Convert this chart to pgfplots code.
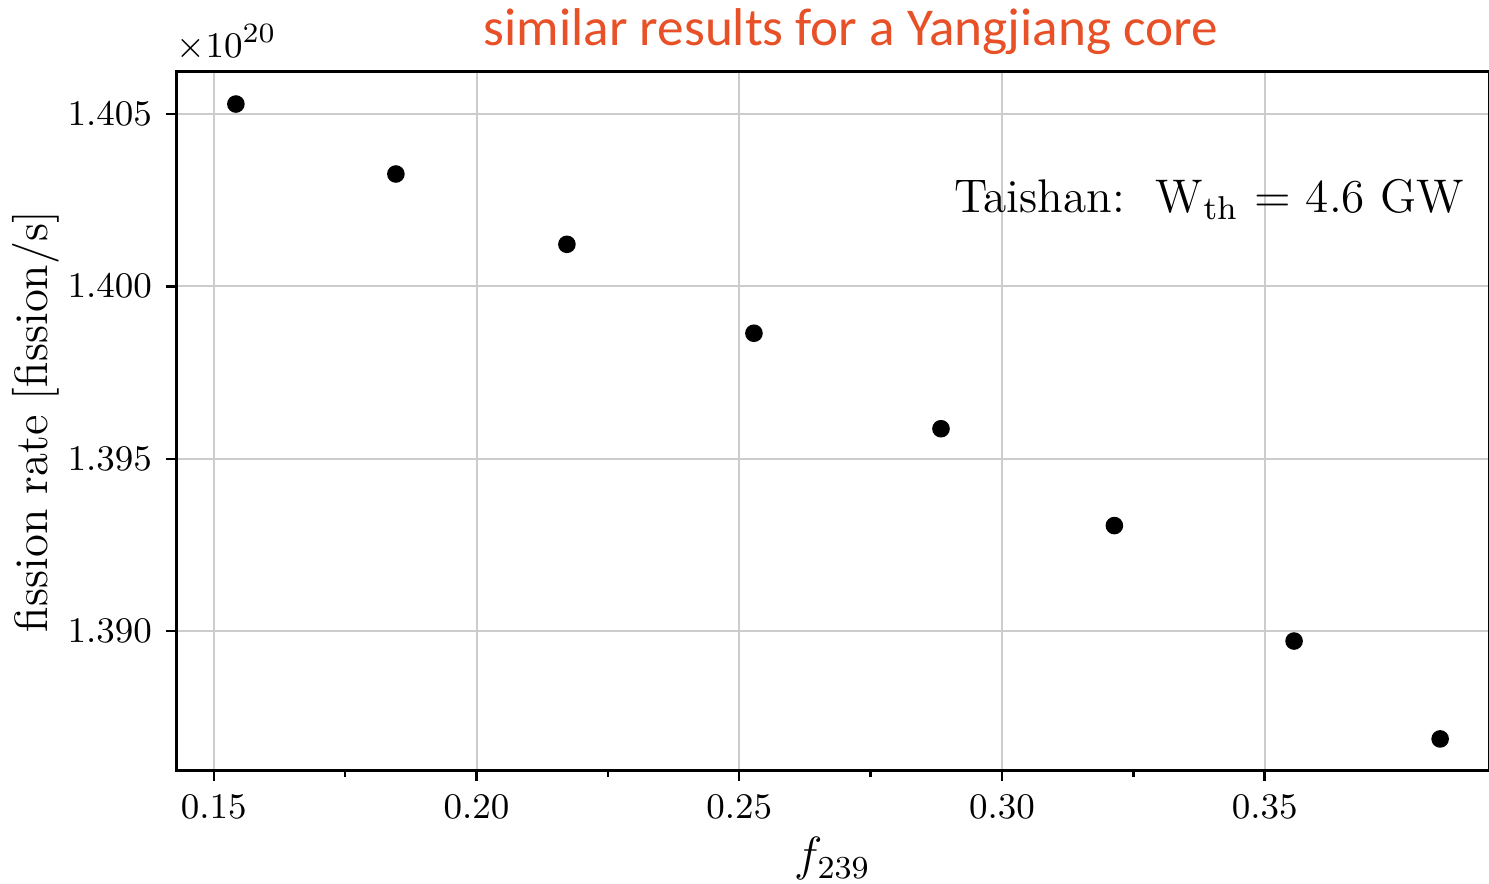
\documentclass[border=0pt]{standalone}
\usepackage{fontspec}
\usepackage{pgfplots}
\pgfplotsset{compat=1.18}
\newfontfamily\carlito{Carlito}
\definecolor{titlered}{RGB}{232,80,40}
\definecolor{gridgray}{RGB}{204,204,204}

\begin{document}
\begin{tikzpicture}
\begin{axis}[
    at={(0,0)}, anchor=south west,
    scale only axis,
    width=328.25pt, height=174.75pt,
    xmin=0.1428, xmax=0.3927,
    ymin=1.38594, ymax=1.40622,
    xtick={0.15,0.20,0.25,0.30,0.35},
    ytick={1.390,1.395,1.400,1.405},
    minor x tick num=1,
    scaled ticks=false,
    xticklabel style={/pgf/number format/fixed,/pgf/number format/fixed zerofill,/pgf/number format/precision=2},
    yticklabel style={/pgf/number format/fixed,/pgf/number format/fixed zerofill,/pgf/number format/precision=3},
    tick label style={font=\fontsize{9.5}{11.5}\selectfont},
    tick align=outside,
    tick pos=left,
    major tick length=2.5pt,
    minor tick length=1.4pt,
    every tick/.style={black, line width=0.6pt},
    axis line style={line width=0.75pt},
    grid=major,
    major grid style={gridgray, line width=0.5pt},
    xlabel={$f_{239}$},
    ylabel={fission rate [fission/s]},
    label style={font=\fontsize{11.7}{13}\selectfont},
    xlabel style={at={(rel axis cs:0.5,0)}, anchor=center, yshift=-22pt},
    ylabel style={at={(rel axis cs:0,0.5)}, anchor=center, yshift=35pt},
    clip=false,
]
\addplot[only marks, mark=*, mark size=2pt, color=black] coordinates {
    (0.1542,1.40529)
    (0.18465,1.40326)
    (0.2172,1.40122)
    (0.2528,1.39864)
    (0.2884,1.39587)
    (0.3214,1.39306)
    (0.3556,1.38971)
    (0.3834,1.38687)
};
% multiplier for the y axis
\node[anchor=south west, font=\fontsize{9.3}{11}\selectfont, inner sep=0pt] at (rel axis cs:0,1) [yshift=2.5pt] {$\times10^{20}$};
\node[anchor=east, font=\fontsize{11.8}{14}\selectfont, inner sep=0pt] at (rel axis cs:1,0.818) [xshift=-6pt] {Taishan:\ \ W$_{\mathrm{th}}$ $=$ 4.6 GW};
\node[font=\carlito\fontsize{13.3}{16}\selectfont, text=titlered, inner sep=0pt] at (rel axis cs:0.514,1) [yshift=10pt] {similar results for a Yangjiang core};
\end{axis}
\pgfresetboundingbox
\path[use as bounding box] (-44pt,-28.25pt) rectangle (328.25pt,192.75pt);
\end{tikzpicture}
\end{document}
